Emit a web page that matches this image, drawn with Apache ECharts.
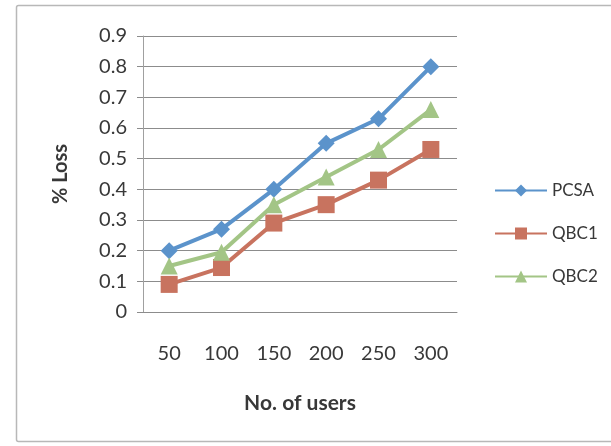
<!DOCTYPE html>
<html>
<head>
<meta charset="utf-8">
<script src="https://cdn.jsdelivr.net/npm/echarts@6/dist/echarts.min.js"></script>
<style>
  html, body { margin: 0; padding: 0; background: #ffffff; }
  #chart { width: 611px; height: 446px; }
</style>
</head>
<body>
<div id="chart"></div>
<script>
// Number of users on the x axis
const users = ['50', '100', '150', '200', '250', '300'];

// Percentage loss for each scheme
const pcsa = [0.20, 0.27, 0.40, 0.55, 0.63, 0.80];
const qbc1 = [0.09, 0.145, 0.29, 0.35, 0.43, 0.53];
const qbc2 = [0.15, 0.195, 0.35, 0.44, 0.53, 0.66];

const seriesNames = ['PCSA', 'QBC1', 'QBC2'];

const FONT = 'Lato, "Open Sans", sans-serif';
const TEXT = '#383838';

const chart = echarts.init(document.getElementById('chart'));

function lineSeries(name, data, color, symbol, size) {
  return {
    name: name,
    type: 'line',
    data: data,
    symbol: symbol,
    symbolSize: size,
    showSymbol: true,
    lineStyle: { color: color, width: 4 },
    itemStyle: { color: color },
    emphasis: { disabled: true },
    z: 3
  };
}

chart.setOption({
  animation: false,
  backgroundColor: '#ffffff',
  textStyle: { fontFamily: FONT },
  graphic: [{
    type: 'rect',
    shape: { x: 16.5, y: 5.5, width: 620, height: 436, r: 2 },
    style: { fill: 'none', stroke: '#b8b8b8', lineWidth: 1.5 },
    silent: true,
    z: -1
  }],
  grid: { left: 143, top: 36, width: 314, height: 276 },
  legend: {
    orient: 'vertical',
    left: 489,
    top: 177,
    itemWidth: 52,
    itemHeight: 15,
    itemGap: 26,
    data: seriesNames,
    textStyle: { color: TEXT, fontSize: 17, fontFamily: FONT }
  },
  xAxis: {
    type: 'category',
    data: users,
    boundaryGap: true,
    name: 'No. of users',
    nameLocation: 'middle',
    nameGap: 81,
    nameTextStyle: { color: TEXT, fontSize: 21, fontWeight: 'bold', fontFamily: FONT },
    axisLine: { show: true, lineStyle: { color: '#8c8c8c', width: 1 } },
    axisTick: { show: false },
    axisLabel: { color: TEXT, fontSize: 20, margin: 32, fontFamily: FONT }
  },
  yAxis: {
    type: 'value',
    min: 0,
    max: 0.9,
    interval: 0.1,
    name: '% Loss',
    nameLocation: 'middle',
    nameRotate: 90,
    nameGap: 72,
    nameTextStyle: { color: TEXT, fontSize: 20, fontWeight: 'bold', fontFamily: FONT },
    axisLine: { show: true, lineStyle: { color: '#a0a0a0', width: 1 } },
    axisTick: { show: true, length: 6, inside: false, lineStyle: { color: '#8c8c8c' } },
    splitLine: { show: true, lineStyle: { color: '#8c8c8c', width: 1 } },
    axisLabel: {
      color: TEXT, fontSize: 20, margin: 16, fontFamily: FONT,
      formatter: v => (Math.round(v * 10) / 10).toString()
    }
  },
  series: [
    lineSeries('PCSA', pcsa, '#5b93cb', 'diamond', 17),
    lineSeries('QBC1', qbc1, '#c8735f', 'rect', 17),
    lineSeries('QBC2', qbc2, '#a3c586', 'triangle', 17)
  ]
});
</script>
</body>
</html>
